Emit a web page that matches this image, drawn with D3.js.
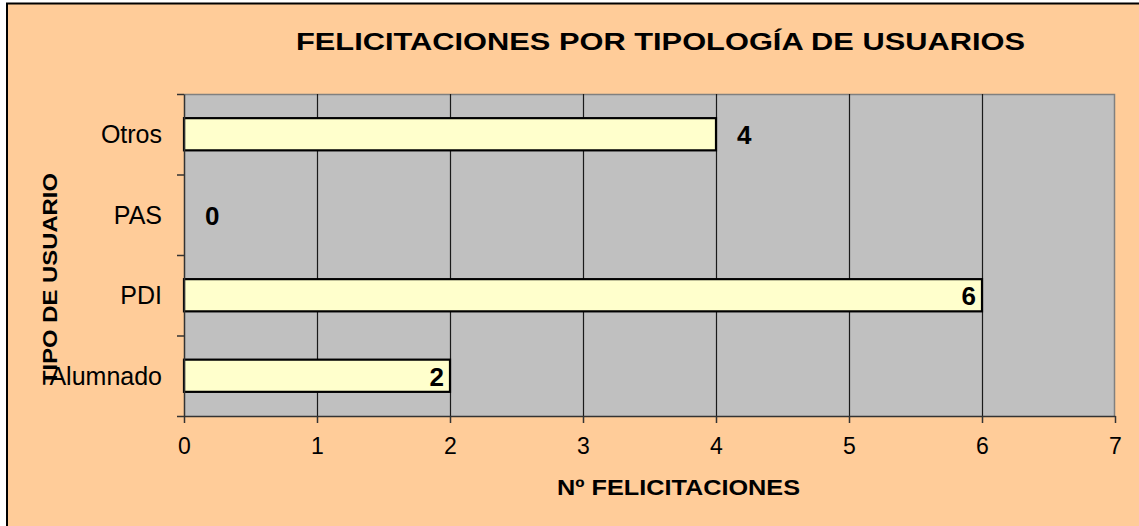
<!DOCTYPE html>
<html>
<head>
<meta charset="utf-8">
<script src="https://cdn.jsdelivr.net/npm/d3@7"></script>
<style>
  body { margin: 0; background: #fff; }
  svg { display: block; font-family: "Liberation Sans", Arial, sans-serif; }
</style>
</head>
<body>
<svg width="1139" height="526"></svg>
<script>
'use strict';

// chart data
var categories = ['Alumnado', 'PDI', 'PAS', 'Otros'];
var values = [2, 6, 0, 4];
var labelInside = ['Alumnado', 'PDI'];
var xTicks = [0, 1, 2, 3, 4, 5, 6, 7];
var title = 'FELICITACIONES POR TIPOLOGÍA DE USUARIOS';
var xTitle = 'Nº FELICITACIONES';
var yTitle = 'TIPO DE USUARIO';

var svg = d3.select('svg'),
    plotLeft = 184, plotRight = 1115, plotTop = 94, plotBottom = 416;

// chart background with border on left / top only
svg.append('rect')
    .attr('x', 7).attr('y', 3)
    .attr('width', 1139 - 7).attr('height', 526 - 3)
    .attr('fill', '#ffcc99');
svg.append('path')
    .attr('d', 'M7,526V3.5H1139')
    .attr('fill', 'none')
    .attr('stroke', '#000')
    .attr('stroke-width', 2);

var x = d3.scaleLinear().domain([0, 7]).range([plotLeft, plotRight]);
var y = d3.scaleBand()
    .domain(categories.slice().reverse())
    .range([plotTop, plotBottom])
    .paddingInner(0.6)
    .paddingOuter(0.3);
var yEdge = d3.scaleLinear().domain([0, categories.length]).range([plotBottom, plotTop]);

// plot area
svg.append('rect')
    .attr('x', plotLeft).attr('y', plotTop)
    .attr('width', plotRight - plotLeft).attr('height', plotBottom - plotTop)
    .attr('fill', '#c0c0c0');
svg.append('path')
    .attr('d', 'M' + plotLeft + ',' + (plotTop + 0.5) + 'H' + (plotRight - 0.5) + 'V' + plotBottom)
    .attr('fill', 'none')
    .attr('stroke', '#808080')
    .attr('stroke-width', 1.5);

// grid lines
svg.append('g')
    .selectAll('line')
    .data(xTicks.slice(1, -1))
    .enter()
    .append('line')
    .attr('x1', function(d) { return Math.round(x(d)) + 0.5; })
    .attr('x2', function(d) { return Math.round(x(d)) + 0.5; })
    .attr('y1', plotTop)
    .attr('y2', plotBottom)
    .attr('stroke', '#1a1a1a')
    .attr('stroke-width', 1.2);

// bars
svg.append('g')
    .selectAll('rect')
    .data(categories.filter(function(d, i) { return values[i] > 0; }))
    .enter()
    .append('rect')
    .attr('x', x(0))
    .attr('y', function(d) { return y(d); })
    .attr('width', function(d) { return x(values[categories.indexOf(d)]) - x(0); })
    .attr('height', y.bandwidth())
    .attr('fill', '#ffffcc')
    .attr('stroke', '#000')
    .attr('stroke-width', 2.2);

// x axis
var xAxis = svg.append('g')
    .attr('class', 'axis axis--x')
    .attr('transform', 'translate(0,' + plotBottom + ')')
    .call(d3.axisBottom(x)
        .tickValues(xTicks)
        .tickFormat(d3.format('d'))
        .tickSize(7).tickSizeOuter(0).tickPadding(15));

// y axis
svg.append('g')
    .attr('class', 'axis axis--y')
    .attr('transform', 'translate(' + plotLeft + ',0)')
    .call(d3.axisLeft(yEdge).ticks(categories.length).tickSize(7).tickSizeOuter(0).tickFormat(''));

svg.selectAll('.axis path, .axis line').attr('stroke', '#333').attr('stroke-width', 1.5);
xAxis.selectAll('text')
    .attr('fill', '#000')
    .style('font-size', '23px')
    .style('font-family', '"Liberation Sans", Arial, sans-serif');

// category labels
svg.append('g')
    .selectAll('text')
    .data(categories)
    .enter()
    .append('text')
    .attr('x', 162)
    .attr('y', function(d) { return y(d) + y.bandwidth() / 2 + 9; })
    .attr('text-anchor', 'end')
    .style('font-size', '25px')
    .text(function(d) { return d; });

// value labels
svg.append('g')
    .selectAll('text')
    .data(categories)
    .enter()
    .append('text')
    .attr('x', function(d) {
        var v = values[categories.indexOf(d)];
        return labelInside.indexOf(d) >= 0 ? x(v) - 6 : x(v) + 21;
    })
    .attr('y', function(d) { return y(d) + y.bandwidth() / 2 + 10; })
    .attr('text-anchor', function(d) { return labelInside.indexOf(d) >= 0 ? 'end' : 'start'; })
    .style('font-size', '26px')
    .style('font-weight', 'bold')
    .text(function(d) { return values[categories.indexOf(d)]; });

// titles
svg.append('text')
    .attr('x', 296).attr('y', 50)
    .attr('textLength', 729)
    .attr('lengthAdjust', 'spacingAndGlyphs')
    .style('font-size', '23px')
    .style('font-weight', 'bold')
    .text(title);

svg.append('text')
    .attr('x', 557).attr('y', 495)
    .attr('textLength', 243)
    .attr('lengthAdjust', 'spacingAndGlyphs')
    .style('font-size', '22px')
    .style('font-weight', 'bold')
    .text(xTitle);

svg.append('text')
    .attr('transform', 'translate(57,385) rotate(-90)')
    .attr('textLength', 212)
    .attr('lengthAdjust', 'spacingAndGlyphs')
    .style('font-size', '20px')
    .style('font-weight', 'bold')
    .text(yTitle);
</script>
</body>
</html>
